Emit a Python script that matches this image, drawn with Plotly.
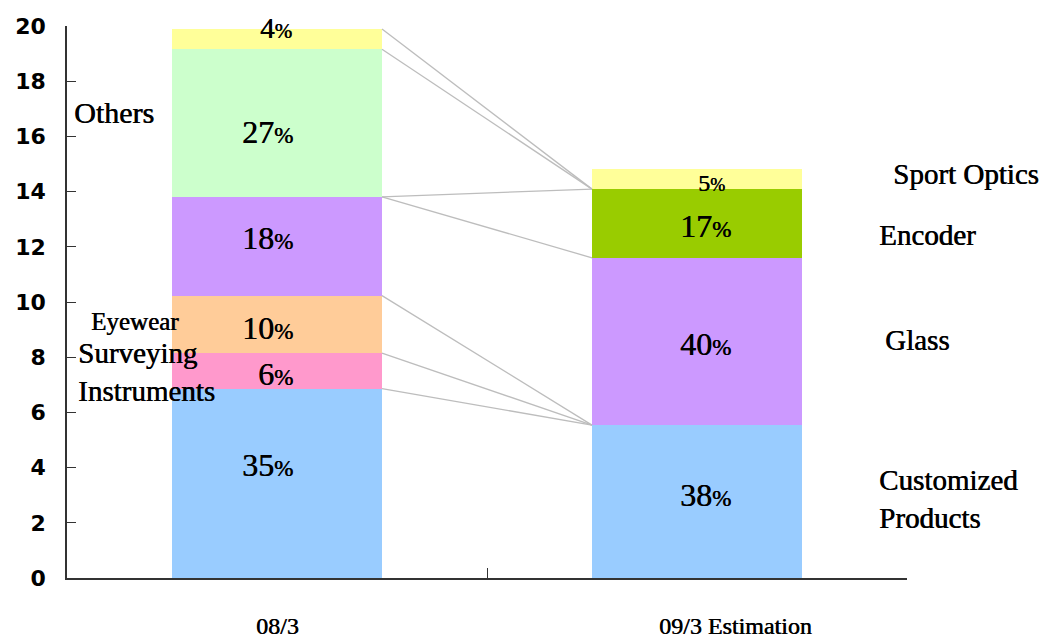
import plotly.graph_objects as go

# Sales composition (stacked), two fiscal periods
periods = ["08/3", "09/3 Estimation"]

customized = [6.86, 5.54]
surveying = [1.29, 0.0]
eyewear = [2.08, 0.0]
glass = [3.58, 6.06]
others = [5.35, 0.0]
encoder = [0.0, 2.49]
sport_optics = [0.73, 0.73]

share_0803 = ["35", "6", "10", "18", "27", "4"]
share_0903 = ["38", "40", "17", "5"]

y_ticks = [0, 2, 4, 6, 8, 10, 12, 14, 16, 18, 20]

SERIF = "Liberation Serif"
HEAVY = "0.6px 0 0 black"  # slight thickening of the serif strokes
series = [
    ("Customized Products", customized, "#99CCFF"),
    ("Surveying Instruments", surveying, "#FF99CC"),
    ("Eyewear", eyewear, "#FFCC99"),
    ("Glass", glass, "#CC99FF"),
    ("Others", others, "#CCFFCC"),
    ("Encoder", encoder, "#99CC00"),
    ("Sport Optics", sport_optics, "#FFFF99"),
]

fig = go.Figure()
for name, vals, color in series:
    fig.add_trace(go.Bar(
        x=periods, y=vals, name=name,
        marker=dict(color=color, line=dict(width=0)),
        hoverinfo="skip", showlegend=False,
    ))


def cumulative(parts):
    out, s = [], 0.0
    for p in parts:
        s += p
        out.append(s)
    return out


# segment tops of each column, bottom to top
tops_a = cumulative([customized[0], surveying[0], eyewear[0], glass[0], others[0], sport_optics[0]])
tops_b = cumulative([customized[1], glass[1], encoder[1], sport_optics[1]])

# connectors between the right edge of column 1 and left edge of column 2
half = 0.25
links = [
    (tops_a[5], tops_b[2]),
    (tops_a[4], tops_b[2]),
    (tops_a[3], tops_b[2]),
    (tops_a[3], tops_b[1]),
    (tops_a[2], tops_b[0]),
    (tops_a[1], tops_b[0]),
    (tops_a[0], tops_b[0]),
]
for ya, yb in links:
    fig.add_shape(type="line", xref="x", yref="y",
                  x0=0 + half, y0=ya, x1=1 - half, y1=yb,
                  line=dict(color="#BDBDBD", width=1.3), layer="above")


def pct(num, big, small):
    return (f"<span style='font-size:{big}px'>{num}</span>"
            f"<span style='font-size:{small}px'>%</span>")


# percentage labels: (column, share, y, right-edge shift, digit size, % size)
pct_labels = [
    (0, share_0803[0], 4.09, 18, 32, 23),
    (0, share_0803[1], 7.39, 18, 32, 23),
    (0, share_0803[2], 9.06, 18, 32, 23),
    (0, share_0803[3], 12.32, 18, 32, 23),
    (0, share_0803[4], 16.16, 18, 32, 23),
    (0, share_0803[5], 19.93, 17, 29, 21),
    (1, share_0903[0], 3.00, 36, 32, 23),
    (1, share_0903[1], 8.48, 36, 32, 23),
    (1, share_0903[2], 12.75, 36, 32, 23),
    (1, share_0903[3], 14.31, 30, 24, 18),
]
for col, num, yv, shift, big, small in pct_labels:
    fig.add_annotation(x=col, y=yv, xref="x", yref="y",
                       text=pct(num, big, small), showarrow=False,
                       xanchor="right", yanchor="middle", xshift=shift,
                       font=dict(family=SERIF, color="black", shadow=HEAVY))

# segment names beside the columns
names = [
    ("Others", -0.488, 16.85, 30),
    ("Eyewear", -0.447, 9.28, 25),
    ("Surveying<br>Instruments", -0.479, 7.46, 29),
    ("Sport Optics", 1.462, 14.64, 29),
    ("Encoder", 1.429, 12.43, 29),
    ("Glass", 1.443, 8.62, 29),
    ("Customized<br>Products", 1.429, 2.86, 29),
]
for text, xv, yv, size in names:
    fig.add_annotation(x=xv, y=yv, xref="x", yref="y", text=text,
                       showarrow=False, xanchor="left", yanchor="middle",
                       align="left",
                       font=dict(family=SERIF, size=size, color="black",
                                 shadow=HEAVY))

# period captions under the axis
caption_shift = [0, 38]
for i, p in enumerate(periods):
    fig.add_annotation(x=i, y=0, xref="x", yref="paper", text=p,
                       showarrow=False, xanchor="center", yanchor="middle",
                       yshift=-48, xshift=caption_shift[i],
                       font=dict(family=SERIF, size=24, color="black",
                                 shadow=HEAVY))

fig.update_layout(
    width=1050, height=640,
    margin=dict(l=67, r=143, t=26, b=62),
    paper_bgcolor="white", plot_bgcolor="white",
    barmode="stack", bargap=0.5,
    showlegend=False,
)
fig.update_xaxes(
    type="category", range=[-0.5, 1.5], tickson="boundaries",
    ticks="inside", ticklen=10, tickcolor="#333", tickwidth=1.2,
    showline=True, linecolor="#333", linewidth=1.5,
    showgrid=False, zeroline=False, showticklabels=False,
    automargin=False,
)
fig.update_yaxes(
    range=[0, 20], tickvals=y_ticks,
    ticks="inside", ticklen=9, tickcolor="#333", tickwidth=1.2,
    showline=True, linecolor="#333", linewidth=1.5,
    showgrid=False, zeroline=False,
    tickfont=dict(family="DejaVu Sans", size=22, color="black", weight="bold"),
    ticklabelstandoff=15, automargin=False,
)

fig.write_html("out.html")
